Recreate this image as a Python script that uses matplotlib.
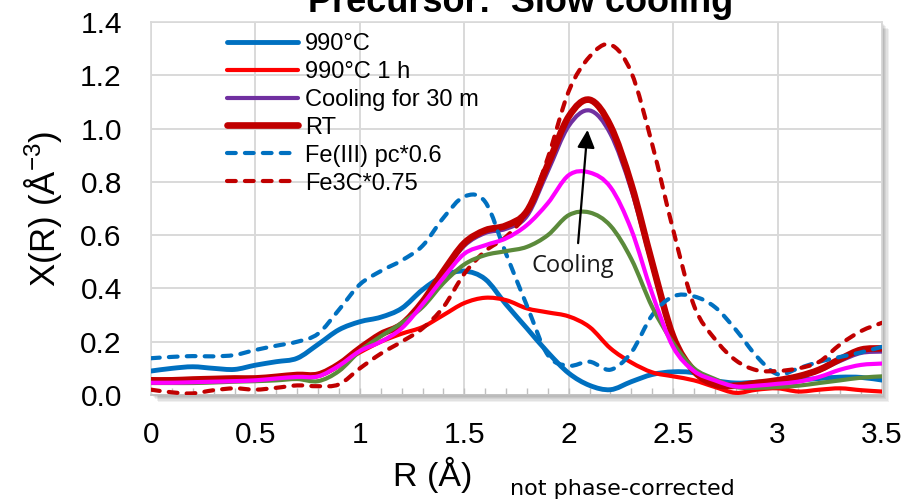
import matplotlib
matplotlib.use("Agg")
import numpy as np
import matplotlib.pyplot as plt
from matplotlib.path import Path
from matplotlib.patches import PathPatch
from matplotlib.lines import Line2D
import matplotlib.patheffects as pe

# ---- data -------------------------------------------------------------
r_angstrom = [0.0, 0.1, 0.2, 0.3, 0.4, 0.5, 0.6, 0.7, 0.8, 0.9,
              1.0, 1.1, 1.2, 1.3, 1.4, 1.5, 1.6, 1.7, 1.8, 1.9,
              2.0, 2.1, 2.2, 2.3, 2.4, 2.5, 2.6, 2.7, 2.8, 2.9,
              3.0, 3.1, 3.2, 3.3, 3.4, 3.5]

chi_990c = [0.090, 0.100, 0.106, 0.100, 0.096, 0.112, 0.125, 0.138, 0.190, 0.245,
            0.275, 0.292, 0.325, 0.395, 0.447, 0.465, 0.435, 0.340, 0.250, 0.160,
            0.082, 0.036, 0.020, 0.050, 0.077, 0.087, 0.083, 0.055, 0.045, 0.048,
            0.052, 0.056, 0.062, 0.067, 0.066, 0.056]

chi_990c_1h = [0.050, 0.050, 0.052, 0.055, 0.058, 0.058, 0.062, 0.070, 0.072, 0.115,
               0.160, 0.200, 0.230, 0.255, 0.300, 0.345, 0.365, 0.356, 0.325, 0.310,
               0.295, 0.255, 0.175, 0.122, 0.085, 0.070, 0.055, 0.030, 0.008, 0.020,
               0.025, 0.013, 0.020, 0.025, 0.018, 0.013]

chi_cool30 = [0.054, 0.054, 0.057, 0.059, 0.061, 0.061, 0.067, 0.074, 0.075, 0.113,
              0.172, 0.225, 0.262, 0.345, 0.458, 0.560, 0.608, 0.624, 0.672, 0.840,
              1.010, 1.068, 0.980, 0.770, 0.485, 0.215, 0.088, 0.040, 0.035, 0.044,
              0.054, 0.068, 0.092, 0.128, 0.158, 0.163]

chi_rt = [0.055, 0.055, 0.058, 0.060, 0.062, 0.062, 0.068, 0.075, 0.076, 0.115,
          0.175, 0.228, 0.265, 0.350, 0.465, 0.570, 0.618, 0.636, 0.690, 0.865,
          1.045, 1.108, 1.010, 0.790, 0.495, 0.220, 0.090, 0.040, 0.035, 0.045,
          0.055, 0.070, 0.095, 0.135, 0.170, 0.175]

chi_intermediate_1 = [0.045, 0.045, 0.045, 0.047, 0.050, 0.052, 0.055, 0.060, 0.052, 0.090,
                      0.165, 0.220, 0.270, 0.330, 0.420, 0.490, 0.525, 0.540, 0.556, 0.600,
                      0.675, 0.685, 0.635, 0.510, 0.330, 0.195, 0.100, 0.060, 0.030, 0.027,
                      0.030, 0.035, 0.045, 0.055, 0.065, 0.070]

chi_intermediate_2 = [0.046, 0.046, 0.048, 0.050, 0.052, 0.055, 0.062, 0.068, 0.070, 0.110,
                      0.165, 0.200, 0.250, 0.340, 0.440, 0.530, 0.562, 0.588, 0.638, 0.720,
                      0.825, 0.835, 0.780, 0.620, 0.380, 0.180, 0.090, 0.055, 0.032, 0.035,
                      0.042, 0.050, 0.068, 0.095, 0.113, 0.118]

chi_fe3_pc = [0.138, 0.143, 0.146, 0.145, 0.150, 0.169, 0.185, 0.200, 0.230, 0.320,
              0.415, 0.465, 0.505, 0.560, 0.665, 0.745, 0.725, 0.530, 0.335, 0.150,
              0.110, 0.125, 0.095, 0.160, 0.300, 0.370, 0.370, 0.330, 0.245, 0.145,
              0.078, 0.100, 0.125, 0.143, 0.160, 0.181]

chi_fe3c = [0.020, 0.010, 0.006, 0.018, 0.025, 0.020, 0.027, 0.036, 0.033, 0.040,
            0.100, 0.155, 0.200, 0.250, 0.330, 0.455, 0.540, 0.594, 0.688, 0.890,
            1.140, 1.270, 1.315, 1.210, 0.940, 0.620, 0.335, 0.210, 0.130, 0.093,
            0.090, 0.100, 0.125, 0.190, 0.240, 0.271]

legend_labels = ["990°C", "990°C 1 h", "Cooling for 30 m", "RT",
                 "Fe(III) pc*0.6", "Fe3C*0.75"]
x_ticks = [0, 0.5, 1, 1.5, 2, 2.5, 3, 3.5]
x_tick_labels = ["0", "0.5", "1", "1.5", "2", "2.5", "3", "3.5"]
y_ticks = [0.0, 0.2, 0.4, 0.6, 0.8, 1.0, 1.2, 1.4]
y_tick_labels = ["0.0", "0.2", "0.4", "0.6", "0.8", "1.0", "1.2", "1.4"]

# ---- styles -----------------------------------------------------------
BLUE = "#0070C0"
RED = "#FF0000"
PURPLE = "#7030A0"
DARKRED = "#C00000"
GREEN = "#5B8A3B"
MAGENTA = "#FF00FF"
DASH = (0, (2.1, 2.2))

LW_THIN = 3.0
LW_BLUE = 3.5
LW_RT = 4.8

FONT = "Liberation Sans"
W, H = 906, 503


def smooth_path(xs, ys):
    """Smoothed (Catmull-Rom style) Bezier path through the data points."""
    pts = np.column_stack([xs, ys]).astype(float)
    n = len(pts)
    verts = [pts[0]]
    codes = [Path.MOVETO]
    for i in range(n - 1):
        p0 = pts[i - 1] if i > 0 else pts[i]
        p1 = pts[i]
        p2 = pts[i + 1]
        p3 = pts[i + 2] if i + 2 < n else pts[i + 1]
        c1 = p1 + (p2 - p0) / 6.0
        c2 = p2 - (p3 - p1) / 6.0
        verts += [c1, c2, p2]
        codes += [Path.CURVE4] * 3
    return Path(verts, codes)


def add_series(ax, xs, ys, color, lw, ls="-", z=3):
    patch = PathPatch(smooth_path(xs, ys), facecolor="none", edgecolor=color,
                      linewidth=lw, linestyle=ls, capstyle="round",
                      joinstyle="round", zorder=z)
    ax.add_patch(patch)


fig = plt.figure(figsize=(W / 100, H / 100), dpi=100)
fig.patch.set_facecolor("white")
ax = fig.add_axes([151 / W, 1 - 395 / H, (882 - 151) / W, (395 - 22) / H])

# soft drop shadow under the plot area
shadow = [pe.SimplePatchShadow(offset=(k * 0.8, -k * 0.8), shadow_rgbFace="black",
                               alpha=0.06) for k in range(1, 7)]
ax.patch.set_path_effects(shadow + [pe.Normal()])

ax.set_xlim(0, 3.5)
ax.set_ylim(0, 1.4)

series = [
    (chi_990c, BLUE, LW_BLUE, "-", 3),
    (chi_990c_1h, RED, LW_THIN, "-", 3.1),
    (chi_cool30, PURPLE, LW_THIN, "-", 3.2),
    (chi_rt, DARKRED, LW_RT, "-", 3.3),
    (chi_fe3_pc, BLUE, LW_THIN, DASH, 3.4),
    (chi_fe3c, DARKRED, LW_THIN, DASH, 3.5),
    (chi_intermediate_1, GREEN, LW_THIN, "-", 3.6),
    (chi_intermediate_2, MAGENTA, LW_THIN, "-", 3.7),
]
for ys, c, lw, ls, z in series:
    add_series(ax, r_angstrom, ys, c, lw, ls, z)

# grid and frame
ax.set_xticks(x_ticks)
ax.set_xticklabels(x_tick_labels, fontsize=21.5, family=FONT)
ax.set_yticks(y_ticks)
ax.set_yticklabels(y_tick_labels, fontsize=21.5, family=FONT)
ax.set_xticks(np.arange(0, 3.51, 0.1), minor=True)
ax.grid(True, which="major", color="#D9D9D9", linewidth=1.4, zorder=0)
ax.set_axisbelow(True)
ax.tick_params(axis="x", which="both", direction="in", length=5, width=1,
               color="#BFBFBF", pad=19)
ax.tick_params(axis="y", which="both", length=0, pad=21)
for s in ax.spines.values():
    s.set_color("#D9D9D9")
    s.set_linewidth(1.2)
ax.spines["bottom"].set_color("#BFBFBF")

# legend
handles = [
    Line2D([], [], color=BLUE, lw=LW_BLUE, solid_capstyle="round"),
    Line2D([], [], color=RED, lw=LW_THIN, solid_capstyle="round"),
    Line2D([], [], color=PURPLE, lw=LW_THIN, solid_capstyle="round"),
    Line2D([], [], color=DARKRED, lw=LW_RT, solid_capstyle="round"),
    Line2D([], [], color=BLUE, lw=LW_THIN, ls=DASH, dash_capstyle="round"),
    Line2D([], [], color=DARKRED, lw=LW_THIN, ls=DASH, dash_capstyle="round"),
]
leg = ax.legend(handles, legend_labels, loc="upper left",
                bbox_to_anchor=(227 / W, 1 - 33 / H), bbox_transform=fig.transFigure,
                frameon=False, borderpad=0, borderaxespad=0, handlelength=3.0,
                handletextpad=0.3, labelspacing=0.25,
                prop={"family": FONT, "size": 17})
leg.set_zorder(5)

# annotation
ax.annotate("", xy=(2.09, 0.995), xytext=(2.045, 0.57),
            arrowprops=dict(arrowstyle="-|>,head_length=0.45,head_width=0.22",
                            color="black", lw=1.6, mutation_scale=24,
                            shrinkA=0, shrinkB=0), zorder=6)
ax.text(2.02, 0.484, "Cooling", ha="center", va="center",
        fontsize=17, family="Open Sans", color="#1a1a1a", zorder=6)

# axis titles
ax.set_ylabel("X(R) (Å$^{\\mathregular{-3}}$)", fontsize=25, family=FONT, labelpad=12)
fig.text(393 / W, 1 - 486 / H, "R (Å)", fontsize=24.5, family=FONT,
         ha="left", va="baseline")
fig.text(510 / W, 1 - 495 / H, "not phase-corrected", fontsize=16,
         family="DejaVu Sans", ha="left", va="baseline")

# chart title
fig.text(521 / W, 1 - 12 / H, "Precursor:  Slow cooling", fontsize=26,
         family=FONT, weight="bold", ha="center", va="baseline")

fig.savefig("out.png", dpi=100, facecolor="white")
